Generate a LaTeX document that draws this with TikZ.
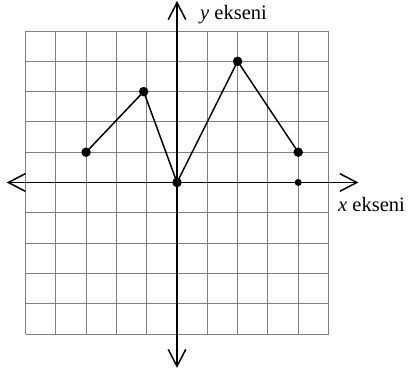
\documentclass[tikz,border=0pt]{standalone}
\usepackage{fontspec}
\setmainfont{Liberation Serif}
\usetikzlibrary{arrows.meta}
\begin{document}
\begin{tikzpicture}[x=30.3pt,y=30.3pt,
  gridline/.style={draw=black!50,line width=0.9pt},
  axisline/.style={line width=1.8pt,-{Straight Barb[length=17pt,width=17.6pt,line width=1.5pt]}},
  graphline/.style={line width=1.5pt,line join=round},
  dot/.style={circle,fill=black,inner sep=0pt,minimum size=9.5pt},
  smalldot/.style={circle,fill=black,inner sep=0pt,minimum size=7pt},
  lbl/.style={anchor=base west,inner sep=0pt,font=\fontsize{20.5pt}{22pt}\selectfont}]
\useasboundingbox (-5.842,-6.320) rectangle (7.822,6.023);
\foreach \k in {-5,...,5} {
  \draw[gridline] (\k,-5) -- (\k,5);
  \draw[gridline] (-5,\k) -- (5,\k);
}
\draw[axisline] (0,0) -- (-5.62,0);
\draw[axisline] (0,0) -- (5.99,0);
\draw[axisline] (0,0) -- (0,5.99);
\draw[axisline] (0,0) -- (0,-6.12);
\node[dot] (p1) at (-3,1) {};
\node[dot] (p2) at (-1.1,3) {};
\node[dot] (p3) at (0,0) {};
\node[dot] (p4) at (2,4) {};
\node[dot] (p5) at (4,1) {};
\node[smalldot] (p6) at (4,0) {};
\draw[graphline] (p1.center) -- (p2.center) -- (p3.center) -- (p4.center) -- (p5.center);
\node[lbl] (ylab) at (0.759,5.386) {\textit{y} ekseni};
\node[lbl] (xlab) at (5.314,-0.964) {\textit{x} ekseni};
\end{tikzpicture}
\end{document}
